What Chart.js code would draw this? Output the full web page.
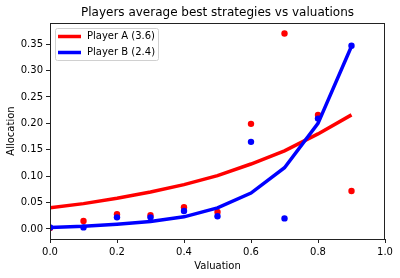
<!DOCTYPE html>
<html>
<head>
<meta charset="utf-8">
<script src="https://cdn.jsdelivr.net/npm/chart.js@4.4.0/dist/chart.umd.min.js"></script>
<style>
  html, body { margin: 0; padding: 0; background: #fff; }
  #wrap { width: 400px; height: 278px; }
</style>
</head>
<body>
<div id="wrap"><canvas id="chart"></canvas></div>
<script>
// values
const valuations = [0.0, 0.1, 0.2, 0.3, 0.4, 0.5, 0.6, 0.7, 0.8, 0.9];
const lineA = [0.040, 0.048, 0.058, 0.070, 0.084, 0.101, 0.123, 0.148, 0.180, 0.216];
const lineB = [0.003, 0.005, 0.009, 0.014, 0.023, 0.040, 0.068, 0.116, 0.200, 0.346];
const pointsA = [0.002, 0.015, 0.028, 0.026, 0.041, 0.032, 0.199, 0.370, 0.216, 0.072];
const pointsB = [0.003, 0.003, 0.022, 0.022, 0.034, 0.024, 0.165, 0.020, 0.209, 0.347];
const seriesNames = ['Player A (3.6)', 'Player B (2.4)'];
const xTicks = [0.0, 0.2, 0.4, 0.6, 0.8, 1.0];
const yTicks = [0.00, 0.05, 0.10, 0.15, 0.20, 0.25, 0.30, 0.35];

const RED = '#ff0000';
const BLUE = '#0000ff';
const FONT = '"DejaVu Sans", sans-serif';

const toXY = (ys) => valuations.map((x, i) => ({ x: x, y: ys[i] }));

// frame, title, axis labels and legend drawn the matplotlib way
const decor = {
  id: 'decor',
  afterDraw(chart) {
    const { ctx, chartArea: a } = chart;
    ctx.save();
    ctx.strokeStyle = '#222';
    ctx.lineWidth = 1;
    ctx.strokeRect(a.left + 0.5, a.top + 0.5, a.right - a.left - 1, a.bottom - a.top);

    ctx.fillStyle = '#000';
    ctx.textAlign = 'center';
    ctx.textBaseline = 'middle';
    ctx.font = '12px ' + FONT;
    ctx.fillText('Players average best strategies vs valuations', (a.left + a.right) / 2, 13);
    ctx.font = '10px ' + FONT;
    ctx.fillText('Valuation', (a.left + a.right) / 2, 266);
    ctx.translate(11, (a.top + a.bottom) / 2);
    ctx.rotate(-Math.PI / 2);
    ctx.fillText('Allocation', 0, 0);
    ctx.restore();

    // legend
    ctx.save();
    const lx = a.left + 5, ly = a.top + 5;
    ctx.fillStyle = 'rgba(255,255,255,0.8)';
    ctx.strokeStyle = '#d0d0d0';
    ctx.lineWidth = 1;
    ctx.beginPath();
    ctx.roundRect(lx + 0.5, ly + 0.5, 103, 32, 2);
    ctx.fill();
    ctx.stroke();
    const cols = [RED, BLUE];
    ctx.font = '10px ' + FONT;
    ctx.textAlign = 'left';
    ctx.textBaseline = 'middle';
    seriesNames.forEach((name, i) => {
      const y = ly + 8.5 + i * 16;
      ctx.strokeStyle = cols[i];
      ctx.lineWidth = 3.5;
      ctx.beginPath();
      ctx.moveTo(lx + 3, y);
      ctx.lineTo(lx + 26, y);
      ctx.stroke();
      ctx.fillStyle = '#000';
      ctx.fillText(name, lx + 32, y);
    });
    ctx.restore();
  }
};

const ctx = document.getElementById('chart').getContext('2d');
new Chart(ctx, {
  type: 'scatter',
  data: {
    datasets: [
      {
        type: 'line', label: seriesNames[0], data: toXY(lineA),
        borderColor: RED, borderWidth: 3.5, pointRadius: 0, fill: false, order: 4
      },
      {
        label: 'A points', data: toXY(pointsA),
        backgroundColor: RED, borderWidth: 0, pointRadius: 3.2, order: 3
      },
      {
        type: 'line', label: seriesNames[1], data: toXY(lineB),
        borderColor: BLUE, borderWidth: 3.5, pointRadius: 0, fill: false, order: 2
      },
      {
        label: 'B points', data: toXY(pointsB),
        backgroundColor: BLUE, borderWidth: 0, pointRadius: 3.2, order: 1
      }
    ]
  },
  options: {
    responsive: true,
    maintainAspectRatio: false,
    animation: false,
    layout: { padding: { left: 0, right: 15, top: 23, bottom: 0 } },
    plugins: {
      legend: { display: false },
      title: { display: false },
      tooltip: { enabled: false }
    },
    scales: {
      x: {
        type: 'linear', min: 0, max: 1,
        afterFit: (s) => { s.height = 39; },
        afterBuildTicks: (s) => { s.ticks = xTicks.map(v => ({ value: v })); },
        grid: { display: true, drawOnChartArea: false, tickLength: 4, color: '#222' },
        border: { display: false },
        ticks: {
          color: '#000', padding: 3, maxRotation: 0,
          font: { family: FONT, size: 10 },
          callback: (v) => v.toFixed(1)
        }
      },
      y: {
        type: 'linear', min: -0.019, max: 0.39,
        afterFit: (s) => { s.width = 50; },
        afterBuildTicks: (s) => { s.ticks = yTicks.map(v => ({ value: v })); },
        grid: { display: true, drawOnChartArea: false, tickLength: 4, color: '#222' },
        border: { display: false },
        ticks: {
          color: '#000', padding: 3,
          font: { family: FONT, size: 10 },
          callback: (v) => v.toFixed(2)
        }
      }
    }
  },
  plugins: [decor]
});
</script>
</body>
</html>
